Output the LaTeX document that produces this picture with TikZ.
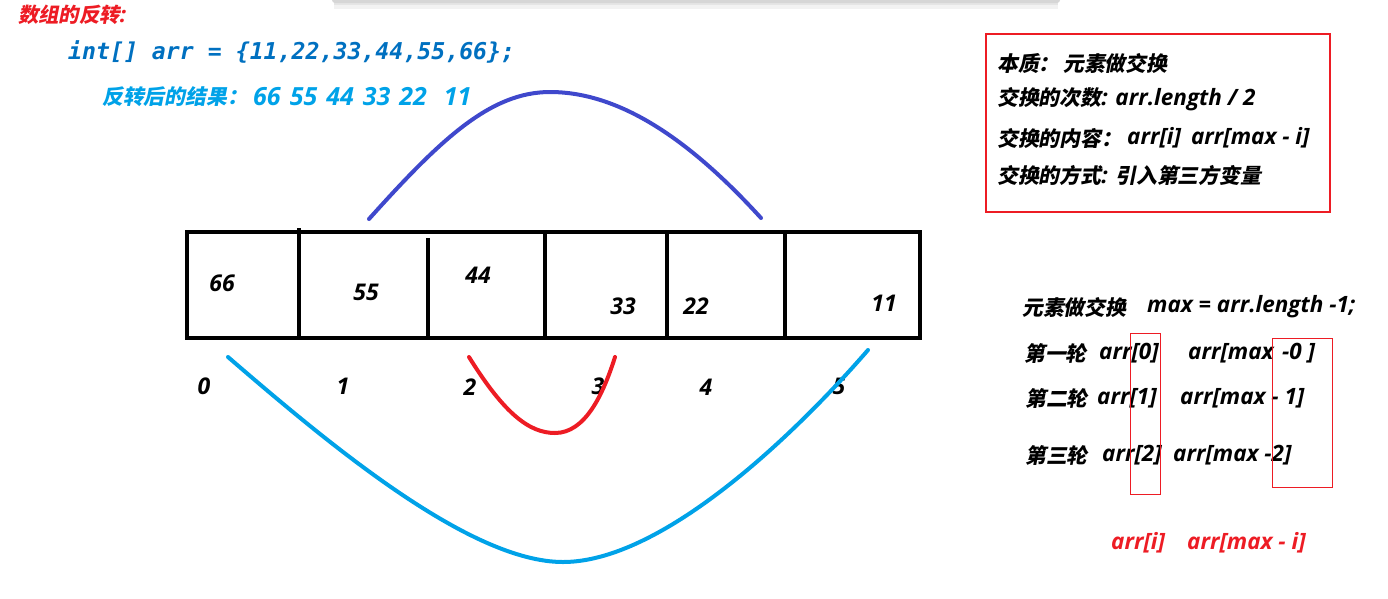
\documentclass[tikz,border=0pt]{standalone}
\usepackage{fontspec}
\setmainfont{Open Sans}
\newfontfamily\cjk{Noto Sans CJK SC}[FakeSlant=0.2,Scale=0.925]
\newfontfamily\codefont{DejaVu Sans Mono}
\newcommand\zh[1]{{\cjk\bfseries #1}}
\definecolor{titlered}{RGB}{237,28,36}
\definecolor{codeblue}{RGB}{0,112,192}
\definecolor{skyblue}{RGB}{0,162,232}
\definecolor{arcblue}{RGB}{63,72,204}
\begin{document}
\begin{tikzpicture}
  [
    x=1pt, y=-1pt,
    inner sep=0pt,
    heading/.style={anchor=west,text=titlered,font=\bfseries\itshape\fontsize{22}{22}\selectfont},
    code/.style={anchor=west,text=codeblue,font=\codefont\bfseries\itshape\fontsize{23.2}{23}\selectfont},
    result/.style={anchor=west,text=skyblue,font=\bfseries\itshape\fontsize{22.5}{22}\selectfont},
    note/.style={anchor=west,font=\bfseries\itshape\fontsize{22.5}{22}\selectfont},
    cell/.style={font=\bfseries\itshape\fontsize{23}{23}\selectfont},
    index/.style={font=\bfseries\itshape\fontsize{23}{23}\selectfont},
    wall/.style={line width=4pt},
    swap/.style={line width=4pt,line cap=round},
    frame/.style={draw=titlered,line width=2.5pt},
    marker/.style={draw=titlered,line width=0.9pt},
  ]
  \useasboundingbox (0,0) rectangle (1388,598);
  % shadow of a window at the top
  \fill[black!5]  (334,0) rectangle (1058,9);
  \fill[black!10] (334,0) rectangle (1058,5);
  \fill[black!16, rounded corners=3pt] (332,-4) rectangle (1060,3);

  % title and code
  \node[heading] (title)  at (18,15)  {\zh{数组的反转}:};
  \node[code]    (decl)   at (68,52)  {int[] arr = \{11,22,33,44,55,66\};};
  \node[result]  (after)  at (102,97) {\zh{反转后的结果：}};
  \node[result,font=\bfseries\itshape\fontsize{25}{25}\selectfont] (after2) at (253,97)
    {66\hspace{9pt}55\hspace{9pt}44\hspace{9pt}33\hspace{9pt}22\hspace{17pt}11};

  % the array
  \draw[wall] (187,232) rectangle (920,338);
  \draw[wall] (299,228) -- (299,338);
  \draw[wall] (428,238) -- (428,338);
  \foreach \x in {545,667,785}
    \draw[wall] (\x,232) -- (\x,338);

  \node[cell] (v0) at (222,283) {66};
  \node[cell] (v1) at (366,292) {55};
  \node[cell] (v2) at (478,275) {44};
  \node[cell] (v3) at (623,306) {33};
  \node[cell] (v4) at (696,306) {22};
  \node[cell] (v5) at (884,303) {11};

  \node[index] (i0) at (204,386) {0};
  \node[index] (i1) at (343,386) {1};
  \node[index] (i2) at (470,387) {2};
  \node[index] (i3) at (598,386) {3};
  \node[index] (i4) at (706,387) {4};
  \node[index] (i5) at (839,386) {5};

  % swap arcs
  \coordinate (top a) at (369,219);
  \coordinate (top b) at (761,218);
  \coordinate (out a) at (228,357);
  \coordinate (out b) at (868,350);
  \coordinate (in a)  at (469,357);
  \coordinate (in b)  at (615,357);
  \draw[swap,arcblue] (top a) .. controls (440,140) and (490,92) .. (550,92)
                              .. controls (620,92) and (690,140) .. (top b);
  \draw[swap,skyblue] (out a) .. controls (330,445) and (470,562) .. (563,562)
                              .. controls (660,562) and (790,440) .. (out b);
  \draw[swap,titlered] (in a) .. controls (505,415) and (530,433) .. (555,433)
                              .. controls (585,433) and (603,395) .. (in b);

  % summary box
  \draw[frame] (986,34) rectangle (1330,212);
  \node[note] (essence) at (997,63)  {\zh{本质：}};
  \node[note] (essence2) at (1063,63) {\zh{元素做交换}};
  \node[note] (times)   at (997,99)  {\zh{交换的次数}: arr.length / 2};
  \node[note] (content) at (997,138) {\zh{交换的内容：}};
  \node[note] (content2) at (1127,138) {arr[i]\hspace{10pt}arr[max - i]};
  \node[note] (method)  at (997,175) {\zh{交换的方式}: \zh{引入第三方变量}};

  % rounds
  \node[note] (swapmax) at (1022,307) {\zh{元素做交换}};
  \node[note] (swapmax2) at (1147,307) {max = arr.length -1;};
  \node[note] (r1)   at (1024,353) {\zh{第一轮}};
  \node[note] (r1a)  at (1099,353) {arr[0]};
  \node[note] (r1b)  at (1188,353) {arr[max};
  \node[note] (r1c)  at (1282,353) {-0 ]};
  \node[note] (r2)   at (1025,398) {\zh{第二轮}};
  \node[note] (r2a)  at (1097,398) {arr[1]};
  \node[note] (r2b)  at (1180,398) {arr[max - 1]};
  \node[note] (r3)   at (1025,455) {\zh{第三轮}};
  \node[note] (r3a)  at (1102,455) {arr[2]};
  \node[note] (r3b)  at (1173,455) {arr[max -2]};
  \draw[marker] (1130,333) rectangle (1160,494);
  \draw[marker] (1272,338) rectangle (1332,487);
  \node[note,text=titlered] (general)  at (1111,543) {arr[i]};
  \node[note,text=titlered] (general2) at (1187,543) {arr[max - i]};
\end{tikzpicture}
\end{document}
